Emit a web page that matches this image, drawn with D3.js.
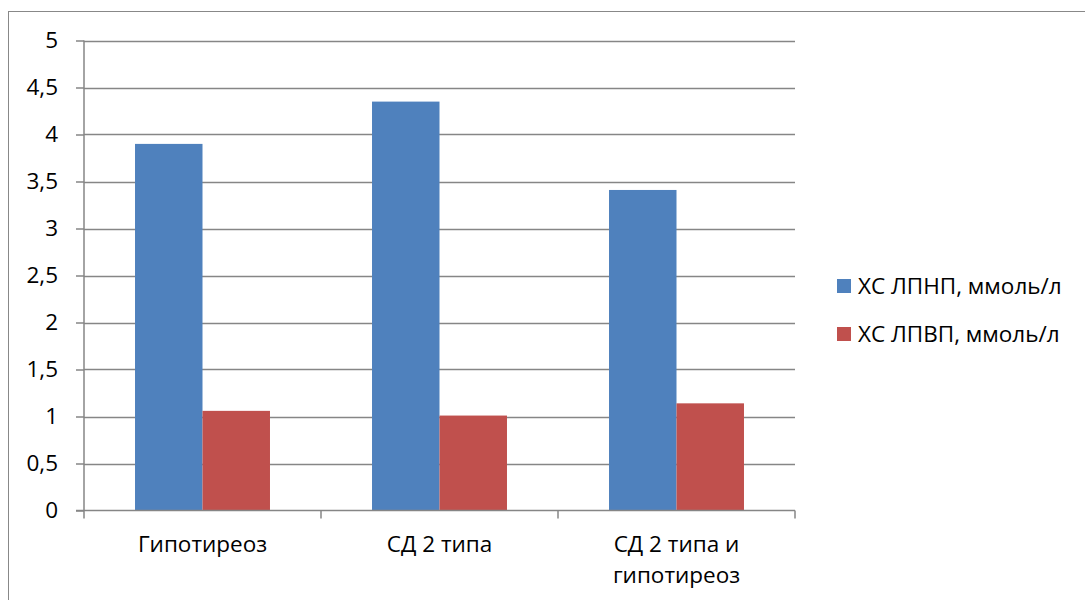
<!DOCTYPE html>
<html>
<head>
<meta charset="utf-8">
<script src="https://cdn.jsdelivr.net/npm/d3@7"></script>
<style>
  html, body { margin: 0; padding: 0; background: #fff; }
  svg { display: block; }
  text { font-family: "Open Sans", "Noto Sans", sans-serif; fill: #000; }
</style>
</head>
<body>
<svg id="chart" width="1085" height="600"></svg>
<script>
// Categories (groups of patients)
const categories = [["Гипотиреоз"], ["СД 2 типа"], ["СД 2 типа и", "гипотиреоз"]];
// Series: LDL and HDL cholesterol, mmol/l
const seriesNames = ["ХС ЛПНП, ммоль/л", "ХС ЛПВП, ммоль/л"];
const ldl = [3.9, 4.35, 3.41];
const hdl = [1.06, 1.01, 1.14];
const yTicks = [0, 0.5, 1, 1.5, 2, 2.5, 3, 3.5, 4, 4.5, 5];
const colors = ["#4F81BD", "#C0504D"];

const svg = d3.select("#chart");
const plot = { left: 84, right: 795, top: 40.5, bottom: 510.5 };
const axisColor = "#868686";
const fontSize = 22.5;

// outer chart frame
svg.append("rect")
  .attr("x", 8.5).attr("y", 11.5)
  .attr("width", 1100).attr("height", 620)
  .attr("fill", "none").attr("stroke", "#888").attr("stroke-width", 1);

const y = d3.scaleLinear().domain([0, 5]).range([plot.bottom, plot.top]);
const x0 = d3.scaleBand().domain(d3.range(categories.length))
  .range([plot.left, plot.right]).paddingInner(0).paddingOuter(0);
const x1 = d3.scaleBand().domain(d3.range(seriesNames.length))
  .range([0, x0.bandwidth()]).paddingOuter(0.756).paddingInner(0);

// horizontal gridlines
svg.append("g").selectAll("line").data(yTicks.filter(d => d > 0)).join("line")
  .attr("x1", plot.left).attr("x2", plot.right)
  .attr("y1", d => Math.round(y(d)) + 0.5).attr("y2", d => Math.round(y(d)) + 0.5)
  .attr("stroke", axisColor).attr("stroke-width", 1.5);

// bars
const values = [ldl, hdl];
const groups = svg.append("g").selectAll("g").data(categories.map((c, i) => i)).join("g")
  .attr("transform", i => `translate(${x0(i)},0)`);
groups.selectAll("rect").data(i => values.map((v, s) => ({ s, v: v[i] }))).join("rect")
  .attr("x", d => x1(d.s))
  .attr("width", x1.bandwidth())
  .attr("y", d => y(d.v))
  .attr("height", d => y(0) - y(d.v))
  .attr("fill", d => colors[d.s]);

// y axis
const yAxis = d3.axisLeft(y).tickValues(yTicks).tickSize(8).tickPadding(18)
  .tickFormat(d => String(d).replace(".", ","));
const gy = svg.append("g").attr("transform", `translate(${plot.left},0)`).call(yAxis);
gy.select(".domain").remove();
gy.append("line").attr("x1", 0).attr("x2", 0).attr("y1", plot.top).attr("y2", plot.bottom)
  .attr("stroke", axisColor).attr("stroke-width", 1.5);
gy.selectAll(".tick line").attr("stroke", axisColor).attr("stroke-width", 1.5);
gy.selectAll(".tick text").style("font-size", fontSize + "px").style("font-family", "'Open Sans', sans-serif").attr("fill", "#000");

// x axis: baseline and category boundary ticks
svg.append("line").attr("x1", plot.left - 8).attr("x2", plot.right)
  .attr("y1", plot.bottom).attr("y2", plot.bottom)
  .attr("stroke", axisColor).attr("stroke-width", 1.5);
const bounds = d3.range(categories.length + 1).map(i => i < categories.length ? x0(i) : plot.right);
svg.append("g").selectAll("line").data(bounds).join("line")
  .attr("x1", d => d).attr("x2", d => d)
  .attr("y1", plot.bottom).attr("y2", plot.bottom + 8)
  .attr("stroke", axisColor).attr("stroke-width", 1.5);

// category labels
const labels = svg.append("g").selectAll("text").data(categories).join("text")
  .attr("x", (d, i) => x0(i) + x0.bandwidth() / 2)
  .attr("y", 552)
  .attr("text-anchor", "middle")
  .style("font-size", fontSize + "px");
labels.selectAll("tspan").data(d => d).join("tspan")
  .attr("x", function () { return this.parentNode.getAttribute("x"); })
  .attr("dy", (d, i) => i === 0 ? 0 : 31)
  .text(d => d);

// legend
const legend = svg.append("g").selectAll("g").data(seriesNames).join("g")
  .attr("transform", (d, i) => `translate(837,${279 + i * 48})`);
legend.append("rect").attr("width", 14).attr("height", 14).attr("fill", (d, i) => colors[i]);
legend.append("text").attr("x", 21).attr("y", 15).style("font-size", fontSize + "px").text(d => d);
</script>
</body>
</html>
